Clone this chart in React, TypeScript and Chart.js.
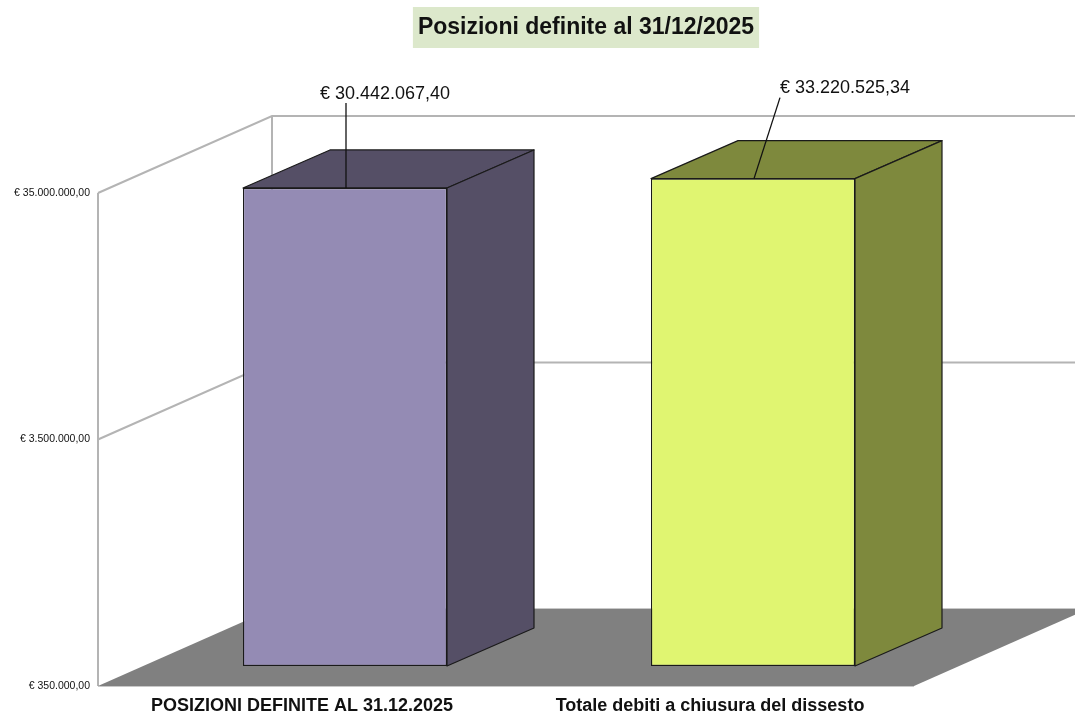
import { useEffect, useRef } from "react";
import { Chart, registerables } from "chart.js";

Chart.register(...registerables);

// ---- data ----
const TITLE = "Posizioni definite al 31/12/2025";
const CATEGORIES = ["POSIZIONI DEFINITE AL 31.12.2025", "Totale debiti a chiusura del dissesto"];
const VALUES = [30442067.4, 33220525.34];
const Y_TICKS = [350000, 3500000, 35000000];
const Y_MIN = 350000;
const Y_MAX = 35000000;

// ---- style ----
const FRONT_COLORS = ["#948BB4", "#E0F571"];
const DARK_COLORS = ["#554F66", "#7E893D"];
const FONT = '"Liberation Sans", Arial, sans-serif';
const WALL_DX = 174;
const WALL_DY = -77;
const BAR_SHIFT_X = 43;
const BAR_SHIFT_Y = -20;
const BAR_DEPTH_X = 87;
const BAR_DEPTH_Y = -38;
// label placement relative to the top-centre of each bar front face
const LABEL_POS = [
  { tx: 40, ty: -94, lx0: 1, ly0: 0, lx1: 1, ly1: -85 },
  { tx: 92, ty: -91, lx0: 1, ly0: 0, lx1: 27, ly1: -81 },
];

function formatEuro(v: number): string {
  const [i, d] = v.toFixed(2).split(".");
  return "€ " + i.replace(/\B(?=(\d{3})+(?!\d))/g, ".") + "," + d;
}

const threeD = {
  id: "threeD",
  beforeDraw(chart: any) {
    const { ctx } = chart;
    ctx.save();
    ctx.fillStyle = "#ffffff";
    ctx.fillRect(0, 0, chart.width, chart.height);
    ctx.restore();
  },
  beforeDatasetsDraw(chart: any) {
    const { ctx, chartArea: ca, scales } = chart;
    const y = scales.y;
    const W = chart.width;
    const yb = y.getPixelForValue(Y_MIN);
    const yt = y.getPixelForValue(Y_MAX);
    ctx.save();
    ctx.strokeStyle = "#b4b4b4";
    ctx.lineWidth = 2;
    // wall grid lines
    Y_TICKS.forEach((t) => {
      if (t <= Y_MIN) return;
      const yp = y.getPixelForValue(t);
      ctx.beginPath();
      ctx.moveTo(ca.left, yp);
      ctx.lineTo(ca.left + WALL_DX, yp + WALL_DY);
      ctx.lineTo(W, yp + WALL_DY);
      ctx.stroke();
    });
    // verticals
    ctx.beginPath();
    ctx.moveTo(ca.left, yt);
    ctx.lineTo(ca.left, yb);
    ctx.moveTo(ca.left + WALL_DX, yt + WALL_DY);
    ctx.lineTo(ca.left + WALL_DX, yb + WALL_DY);
    ctx.stroke();
    // floor
    ctx.fillStyle = "#808080";
    ctx.beginPath();
    ctx.moveTo(ca.left, yb);
    ctx.lineTo(ca.left + WALL_DX, yb + WALL_DY);
    ctx.lineTo(ca.right + WALL_DX, yb + WALL_DY);
    ctx.lineTo(ca.right, yb);
    ctx.closePath();
    ctx.fill();
    ctx.strokeStyle = "#c8c8c8";
    ctx.lineWidth = 1;
    ctx.beginPath();
    ctx.moveTo(ca.left, yb + 0.5);
    ctx.lineTo(ca.right, yb + 0.5);
    ctx.moveTo(ca.left + WALL_DX, yb + WALL_DY - 0.5);
    ctx.lineTo(W, yb + WALL_DY - 0.5);
    ctx.stroke();
    ctx.restore();
    // shift the bars to their depth plane
    ctx.save();
    ctx.translate(BAR_SHIFT_X, BAR_SHIFT_Y);
  },
  afterDatasetsDraw(chart: any) {
    const { ctx } = chart;
    const meta = chart.getDatasetMeta(0);
    meta.data.forEach((el: any, i: number) => {
      const { x, y, base, width } = el.getProps(["x", "y", "base", "width"], true);
      const l = x - width / 2;
      const r = x + width / 2;
      ctx.save();
      ctx.fillStyle = DARK_COLORS[i];
      ctx.strokeStyle = "#1a1a1a";
      ctx.lineWidth = 1.2;
      ctx.lineJoin = "round";
      // top face
      ctx.beginPath();
      ctx.moveTo(l, y);
      ctx.lineTo(l + BAR_DEPTH_X, y + BAR_DEPTH_Y);
      ctx.lineTo(r + BAR_DEPTH_X, y + BAR_DEPTH_Y);
      ctx.lineTo(r, y);
      ctx.closePath();
      ctx.fill();
      ctx.stroke();
      // side face
      ctx.beginPath();
      ctx.moveTo(r, y);
      ctx.lineTo(r + BAR_DEPTH_X, y + BAR_DEPTH_Y);
      ctx.lineTo(r + BAR_DEPTH_X, base + BAR_DEPTH_Y);
      ctx.lineTo(r, base);
      ctx.closePath();
      ctx.fill();
      ctx.stroke();
      ctx.restore();
    });
    // labels with leader lines
    meta.data.forEach((el: any, i: number) => {
      const { x, y } = el.getProps(["x", "y"], true);
      const p = LABEL_POS[i];
      ctx.save();
      ctx.strokeStyle = "#111";
      ctx.lineWidth = 1.3;
      ctx.beginPath();
      ctx.moveTo(x + p.lx0, y + p.ly0);
      ctx.lineTo(x + p.lx1, y + p.ly1);
      ctx.stroke();
      ctx.fillStyle = "#111";
      ctx.font = `18px ${FONT}`;
      ctx.textAlign = "center";
      ctx.textBaseline = "middle";
      ctx.fillText(formatEuro(VALUES[i]), x + p.tx, y + p.ty);
      ctx.restore();
    });
    ctx.restore();
  },
  afterDraw(chart: any) {
    const { ctx } = chart;
    ctx.save();
    ctx.font = `bold 23px ${FONT}`;
    const w = ctx.measureText(TITLE).width;
    const cx = 586;
    ctx.fillStyle = "#DCE8CB";
    ctx.fillRect(cx - w / 2 - 5, 7, w + 10, 41);
    ctx.fillStyle = "#111";
    ctx.textAlign = "center";
    ctx.textBaseline = "middle";
    ctx.fillText(TITLE, cx, 28);
    ctx.restore();
  },
};

export default function App() {
  const ref = useRef<HTMLCanvasElement | null>(null);
  useEffect(() => {
    if (!ref.current) return;
    const chart = new Chart(ref.current, {
      type: "bar",
      data: {
        labels: CATEGORIES,
        datasets: [
          {
            data: VALUES,
            backgroundColor: FRONT_COLORS,
            borderColor: "#1a1a1a",
            borderWidth: 1.2,
            borderSkipped: false,
            barPercentage: 0.5,
            categoryPercentage: 1,
            clip: false as any,
          },
        ],
      },
      options: {
        animation: false,
        responsive: false,
        layout: { padding: { top: 193, left: 0, right: 161, bottom: 0 } },
        plugins: {
          legend: { display: false },
          title: { display: false },
          tooltip: { enabled: false },
        },
        scales: {
          x: {
            grid: { display: false, drawTicks: false },
            border: { display: false },
            ticks: {
              color: "#111",
              font: { family: FONT, size: 18, weight: "bold" },
              padding: 9,
              maxRotation: 0,
              autoSkip: false,
            },
            afterFit: (s: any) => {
              s.height = 27;
            },
          },
          y: {
            type: "logarithmic",
            min: Y_MIN,
            max: Y_MAX,
            grid: { display: false, drawTicks: false },
            border: { display: false },
            ticks: {
              color: "#111",
              font: { family: FONT, size: 10.5 },
              padding: 8,
              callback: (v: any) => formatEuro(Number(v)),
            },
            afterBuildTicks: (s: any) => {
              s.ticks = Y_TICKS.map((v) => ({ value: v }));
            },
            afterFit: (s: any) => {
              s.width = 98;
            },
          },
        },
      },
      plugins: [threeD],
    });
    return () => chart.destroy();
  }, []);
  return (
    <div style={{ position: "fixed", left: 0, top: 0, width: 1075, height: 713, background: "#fff" }}>
      <canvas ref={ref} width={1075} height={713} style={{ width: 1075, height: 713, display: "block" }} />
    </div>
  );
}
